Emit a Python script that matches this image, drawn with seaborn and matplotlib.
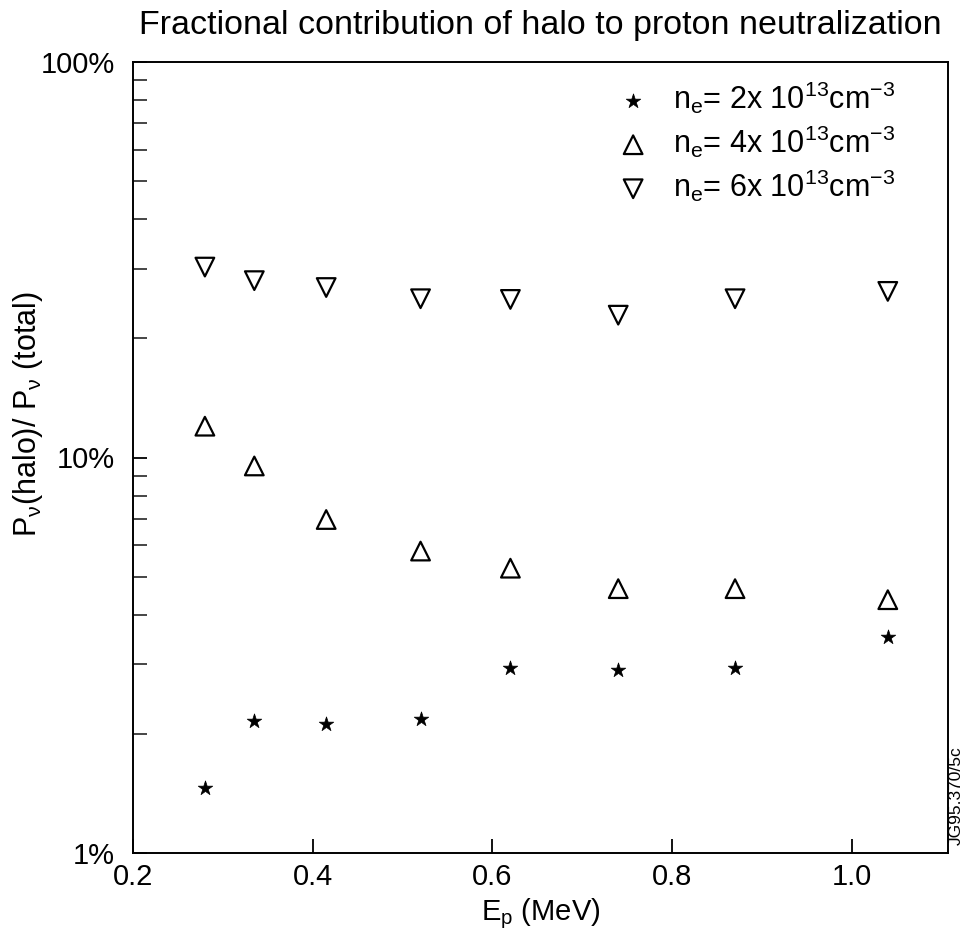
import numpy as np
import pandas as pd
import matplotlib
matplotlib.use("Agg")
import matplotlib.pyplot as plt
import seaborn as sns
from matplotlib.ticker import FixedLocator, NullFormatter, FixedFormatter

# ---- data ----
energy = [0.28, 0.335, 0.415, 0.52, 0.62, 0.74, 0.87, 1.04]
ne2 = [1.46, 2.16, 2.12, 2.18, 2.94, 2.90, 2.94, 3.51]
ne4 = [12.0, 9.52, 6.97, 5.80, 5.25, 4.66, 4.66, 4.37]
ne6 = [30.3, 28.0, 26.9, 25.2, 25.1, 22.9, 25.2, 26.3]
labels = [r"$\mathregular{n_e}$= 2x 10$\mathregular{^{13}}$cm$\mathregular{^{-3}}$",
          r"$\mathregular{n_e}$= 4x 10$\mathregular{^{13}}$cm$\mathregular{^{-3}}$",
          r"$\mathregular{n_e}$= 6x 10$\mathregular{^{13}}$cm$\mathregular{^{-3}}$"]
x_ticks = [0.2, 0.4, 0.6, 0.8, 1.0]
x_ticklabels = ["0.2", "0.4", "0.6", "0.8", "1.0"]
y_ticks = [1, 10, 100]
y_ticklabels = ["1%", "10%", "100%"]

sns.set_style("white")
plt.rcParams["font.family"] = ["Liberation Sans", "DejaVu Sans"]
plt.rcParams["mathtext.fontset"] = "custom"
plt.rcParams["mathtext.rm"] = "Liberation Sans"
plt.rcParams["mathtext.it"] = "Liberation Sans"
plt.rcParams["text.color"] = "black"
plt.rcParams["axes.labelcolor"] = "black"

fig = plt.figure(figsize=(9.65, 9.41), dpi=100)
ax = fig.add_axes([133/965, 1-853/941, (948-133)/965, (853-62)/941])

df2 = pd.DataFrame({"E": energy, "v": ne2})
df4 = pd.DataFrame({"E": energy, "v": ne4})
df6 = pd.DataFrame({"E": energy, "v": ne6})

sns.scatterplot(data=df2, x="E", y="v", marker="*", s=120, color="black",
                edgecolor="black", linewidth=0.5, ax=ax, label=labels[0])
sns.scatterplot(data=df4, x="E", y="v", marker="^", s=180, facecolor="none",
                edgecolor="black", linewidth=1.6, ax=ax, label=labels[1])
sns.scatterplot(data=df6, x="E", y="v", marker="v", s=180, facecolor="none",
                edgecolor="black", linewidth=1.6, ax=ax, label=labels[2])

ax.set_yscale("log")
ax.set_xlim(0.2, 1.107)
ax.set_ylim(1, 100)

ax.xaxis.set_major_locator(FixedLocator(x_ticks))
ax.xaxis.set_major_formatter(FixedFormatter(x_ticklabels))
ax.yaxis.set_major_locator(FixedLocator(y_ticks))
ax.yaxis.set_major_formatter(FixedFormatter(y_ticklabels))
minor = [m * d for d in (1, 10) for m in range(2, 10)]
ax.yaxis.set_minor_locator(FixedLocator(minor))
ax.yaxis.set_minor_formatter(NullFormatter())

ax.tick_params(axis="both", which="major", direction="in", length=10, width=1.3,
               labelsize=21, colors="black", pad=7)
ax.tick_params(axis="y", which="major", pad=13)
ax.tick_params(axis="y", which="minor", direction="in", length=10, width=1.2, left=True)
ax.tick_params(axis="x", which="both", bottom=True)
ax.tick_params(axis="y", which="both", left=True)

for sp in ax.spines.values():
    sp.set_color("black")
    sp.set_linewidth(1.4)

ax.set_xlabel(r"E$\mathregular{_p}$ (MeV)", fontsize=21, labelpad=4)
ax.set_ylabel(r"P$\mathregular{_\nu}$(halo)/ P$\mathregular{_\nu}$ (total)", fontsize=22)
ax.yaxis.set_label_coords(-0.108, 0.555)
ax.set_title("Fractional contribution of halo to proton neutralization",
             fontsize=24.5, pad=20)

leg = ax.legend(loc="upper right", frameon=False, fontsize=22, handletextpad=0.3,
                handlelength=2.0, labelspacing=0.25, borderaxespad=0.0, borderpad=0.0,
                bbox_to_anchor=(0.935, 0.978))

fig.text(0.991, 0.155, "JG95.370/5c", rotation=90, fontsize=12.5,
         ha="center", va="center")

fig.savefig("out.png", dpi=100)
